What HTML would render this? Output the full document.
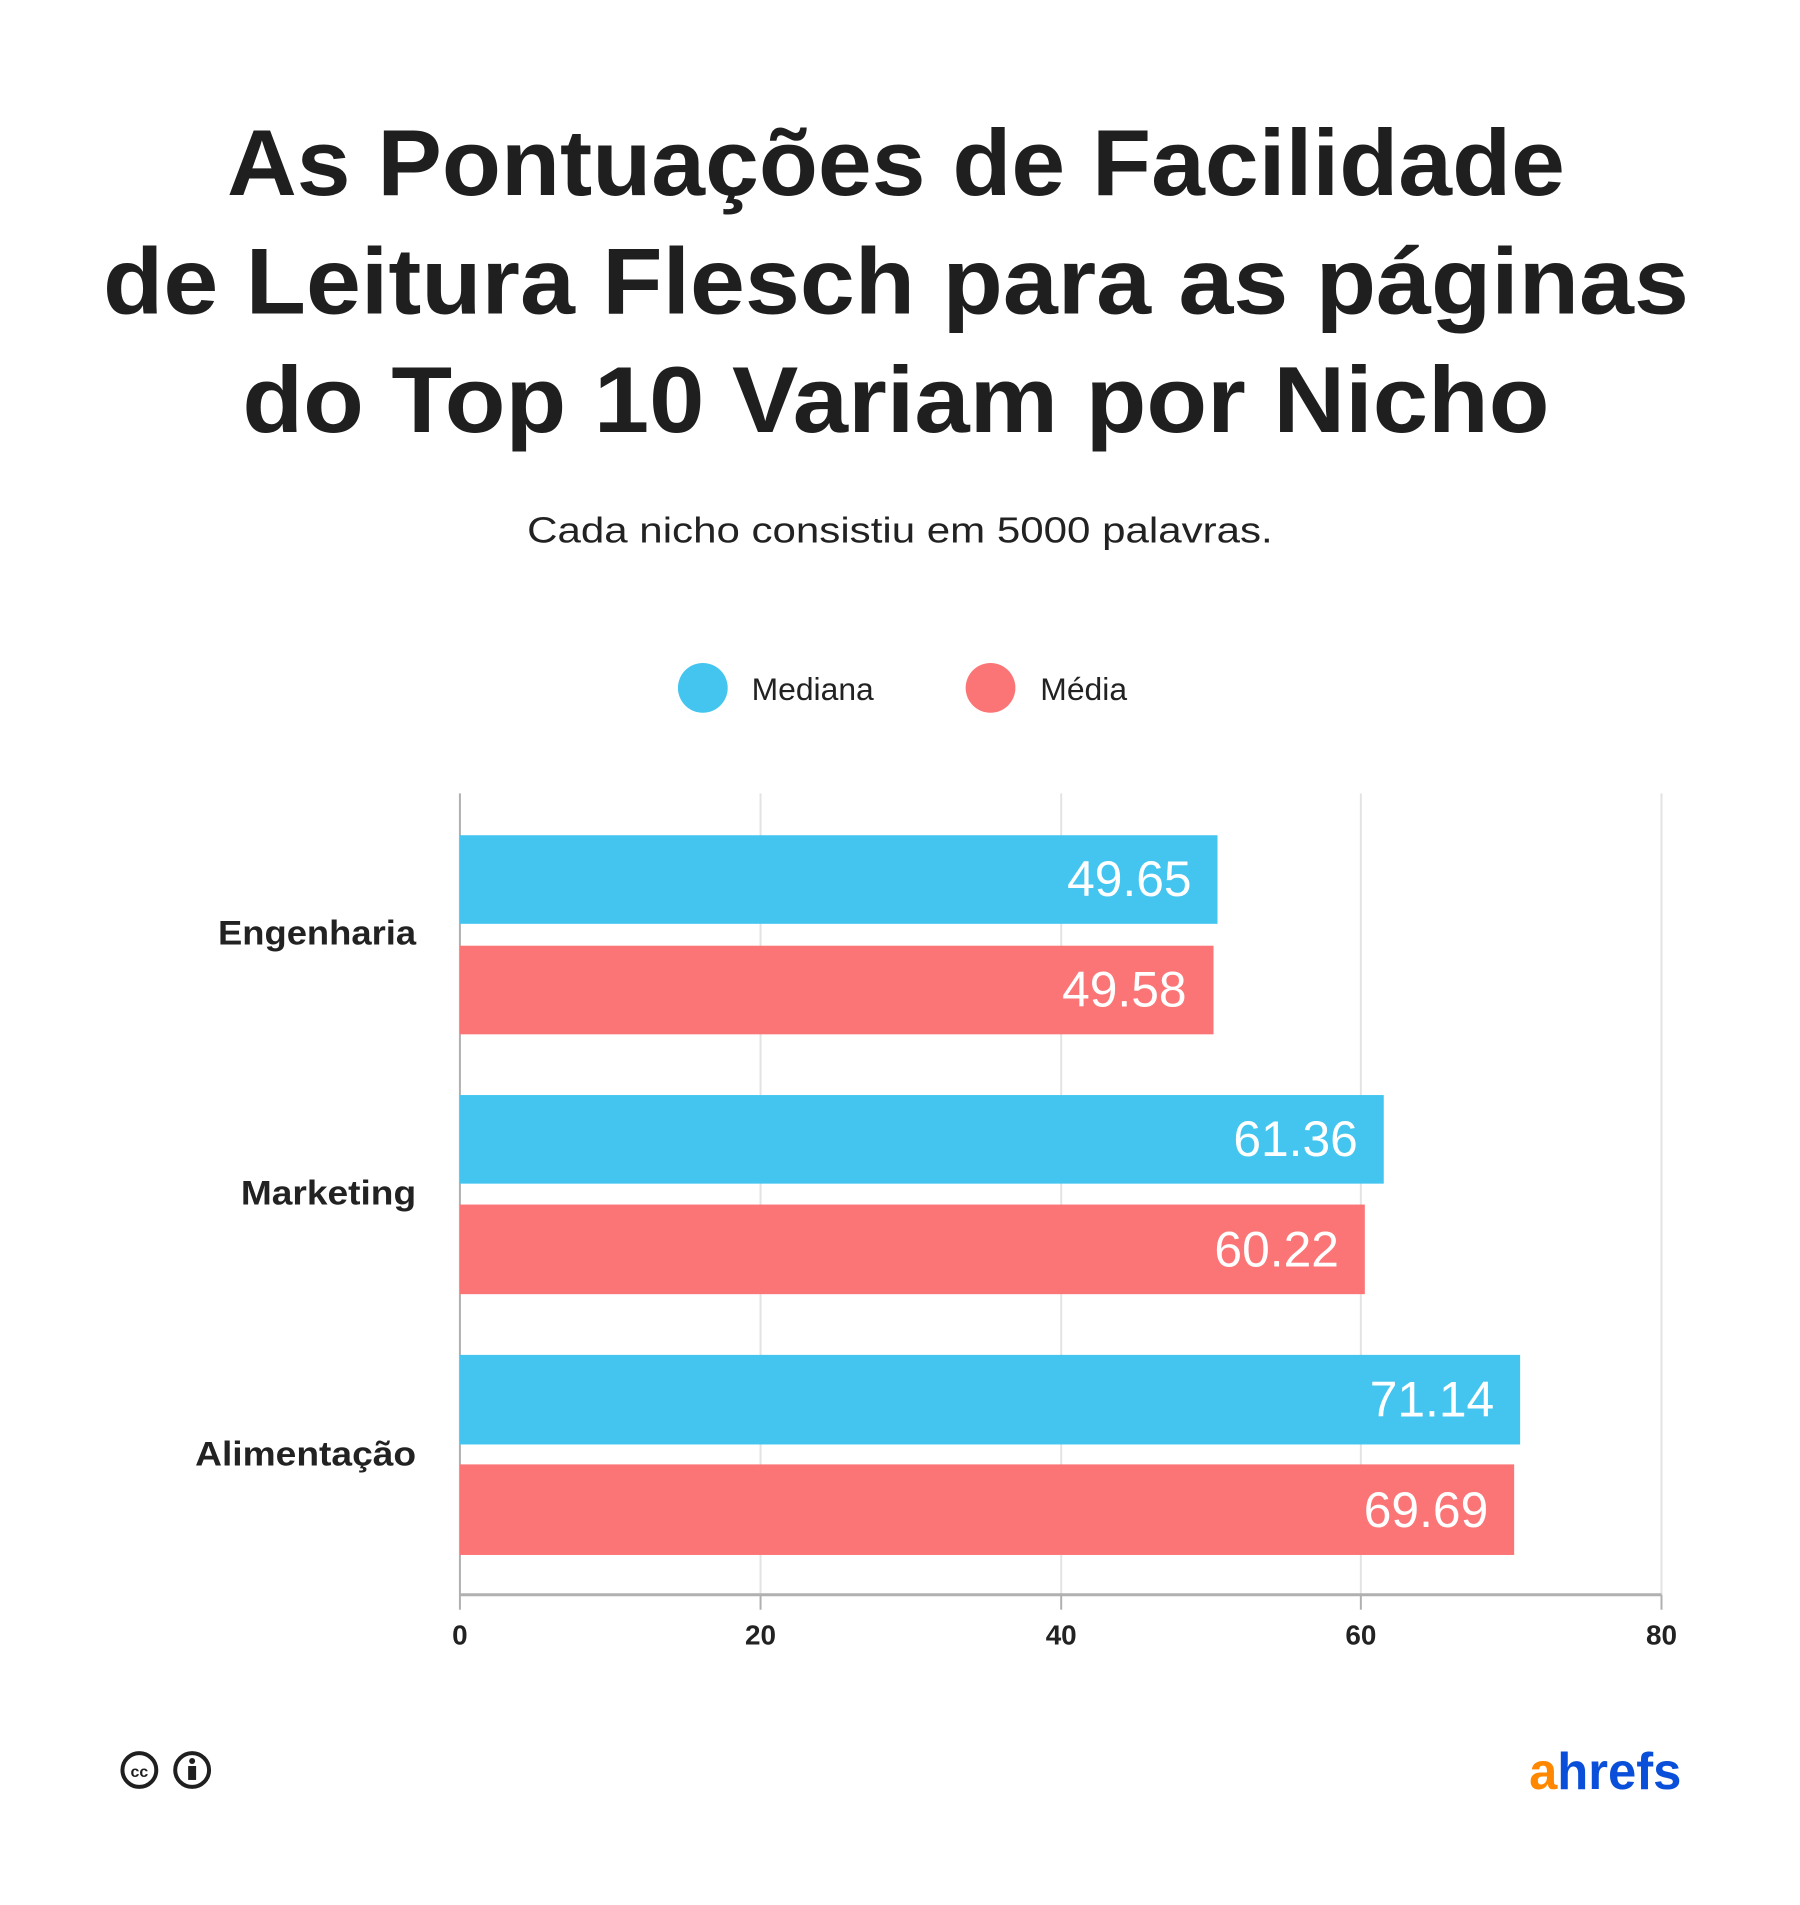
<!DOCTYPE html>
<html><head><meta charset="utf-8"><style>html,body{margin:0;padding:0;background:#fff}svg{display:block}</style></head>
<body>
<svg width="1800" height="1905" viewBox="0 0 1800 1905" xmlns="http://www.w3.org/2000/svg" font-family="'Liberation Sans', sans-serif">
<rect width="1800" height="1905" fill="#fff"/>
<g transform="scale(0.9955)">
<g fill="#1f1f1f" font-weight="bold" font-size="94" text-anchor="middle">
<text x="900" y="196" textLength="1344" lengthAdjust="spacingAndGlyphs">As Pontuações de Facilidade</text>
<text x="900" y="315" textLength="1593" lengthAdjust="spacingAndGlyphs">de Leitura Flesch para as páginas</text>
<text x="900" y="434" textLength="1313" lengthAdjust="spacingAndGlyphs">do Top 10 Variam por Nicho</text>
</g>
<text x="904" y="545" font-size="36" fill="#222" text-anchor="middle" textLength="749" lengthAdjust="spacingAndGlyphs">Cada nicho consistiu em 5000 palavras.</text>
<circle cx="706" cy="691" r="25" fill="#43C5F0"/>
<text x="755" y="703" font-size="32" fill="#222">Mediana</text>
<circle cx="995" cy="691" r="25" fill="#FC7576"/>
<text x="1045" y="703" font-size="32" fill="#222">Média</text>
<g stroke="#e3e3e3" stroke-width="2">
<line x1="764" y1="797" x2="764" y2="1602"/>
<line x1="1066" y1="797" x2="1066" y2="1602"/>
<line x1="1367" y1="797" x2="1367" y2="1602"/>
<line x1="1669" y1="797" x2="1669" y2="1602"/>
</g>
<line x1="462" y1="797" x2="462" y2="1617" stroke="#b0b0b0" stroke-width="2"/>
<line x1="462" y1="1602" x2="1669" y2="1602" stroke="#b0b0b0" stroke-width="3"/>
<g stroke="#b0b0b0" stroke-width="2"><line x1="764" y1="1602" x2="764" y2="1617"/><line x1="1066" y1="1602" x2="1066" y2="1617"/><line x1="1367" y1="1602" x2="1367" y2="1617"/><line x1="1669" y1="1602" x2="1669" y2="1617"/></g>
<rect x="462" y="839" width="761" height="89" fill="#43C5F0"/>
<rect x="462" y="950" width="757" height="89" fill="#FC7576"/>
<rect x="462" y="1100" width="928" height="89" fill="#43C5F0"/>
<rect x="462" y="1210" width="909" height="90" fill="#FC7576"/>
<rect x="462" y="1361" width="1065" height="90" fill="#43C5F0"/>
<rect x="462" y="1471" width="1059" height="91" fill="#FC7576"/>
<g fill="#fff" font-size="50" text-anchor="end">
<text x="1197" y="900">49.65</text>
<text x="1192" y="1011">49.58</text>
<text x="1364" y="1161">61.36</text>
<text x="1345" y="1272">60.22</text>
<text x="1501" y="1423">71.14</text>
<text x="1495" y="1534">69.69</text>
</g>
<g fill="#222" font-size="34" font-weight="bold" text-anchor="end">
<text x="418" y="949" textLength="199" lengthAdjust="spacingAndGlyphs">Engenharia</text>
<text x="418" y="1210" textLength="176" lengthAdjust="spacingAndGlyphs">Marketing</text>
<text x="418" y="1472" textLength="222" lengthAdjust="spacingAndGlyphs">Alimentação</text>
</g>
<g fill="#222" font-size="28" font-weight="bold" text-anchor="middle">
<text x="462" y="1652">0</text><text x="764" y="1652">20</text><text x="1066" y="1652">40</text><text x="1367" y="1652">60</text><text x="1669" y="1652">80</text>
</g>
<g fill="none" stroke="#1f1f1f" stroke-width="4">
<circle cx="140" cy="1778" r="17"/><circle cx="193" cy="1778" r="17"/>
</g>
<text x="140" y="1785" font-size="16" font-weight="bold" fill="#1f1f1f" text-anchor="middle">cc</text>
<circle cx="193" cy="1769" r="3" fill="#1f1f1f"/>
<rect x="189" y="1774" width="8" height="14" fill="#1f1f1f"/>
<text x="1536" y="1797" font-size="52" font-weight="bold" textLength="153" lengthAdjust="spacingAndGlyphs"><tspan fill="#FF8800">a</tspan><tspan fill="#0A4FD9">hrefs</tspan></text>
</g>
</svg>
</body></html>
